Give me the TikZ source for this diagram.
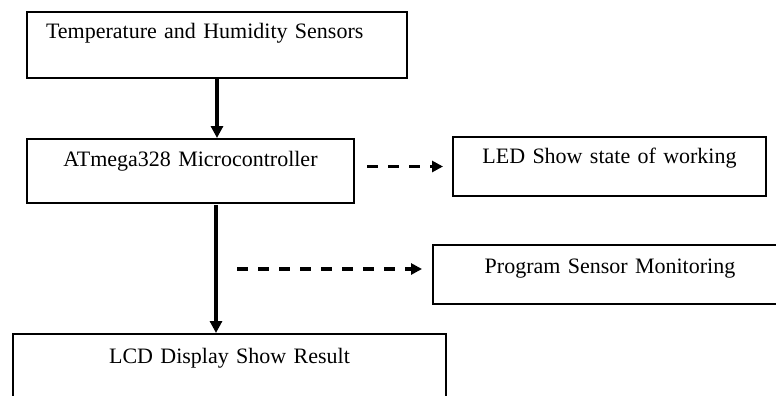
\documentclass[tikz,border=0pt]{standalone}
\usepackage{fontspec}
\setmainfont[WordSpace=0.8]{Liberation Serif}
\usetikzlibrary{arrows.meta}
\begin{document}
\begin{tikzpicture}[x=1pt,y=-1pt]
\tikzstyle{bx} = [draw=black,line width=2pt,inner sep=0pt,anchor=north west,align=center,font=\fontsize{22}{26}\selectfont] %block
\tikzstyle{sa} = [line width=3.2pt,-{Triangle[length=12pt,width=12pt]}] %solid arrow
\tikzstyle{da} = [line width=3.2pt,dash pattern=on 11pt off 10pt,-{Triangle[length=11pt,width=11pt]}] %dashed arrow
\useasboundingbox (0,0) rectangle (776,396);
\node[bx,align=left,inner xsep=19pt,text width=342pt,text height=26pt,text depth=40pt](ts)at(26,11){Temperature and Humidity Sensors};
\node[bx,text width=327pt,text height=27pt,text depth=37pt](mc)at(26,138){ATmega328 Microcontroller};
\node[bx,text width=313pt,text height=26pt,text depth=33pt](led)at(452,136){LED Show state of working};
\node[bx,text width=354pt,text height=28pt,text depth=31pt](ps)at(432,244){Program Sensor Monitoring};
\node[bx,text width=433pt,text height=29pt,text depth=37pt](lcd)at(12,333){LCD Display Show Result};
\coordinate(tr)at(216,205);
\coordinate(tp)at(237,269);
\draw[sa](ts.south) -- (ts.south |- mc.north);
\draw[sa](tr) -- (tr |- lcd.north);
\draw[da]([xshift=12pt]mc.east |- led.west) -- ([xshift=-9pt]led.west);
\draw[da](tp) -- ([xshift=-10pt]ps.west |- tp);
\end{tikzpicture}
\end{document}
